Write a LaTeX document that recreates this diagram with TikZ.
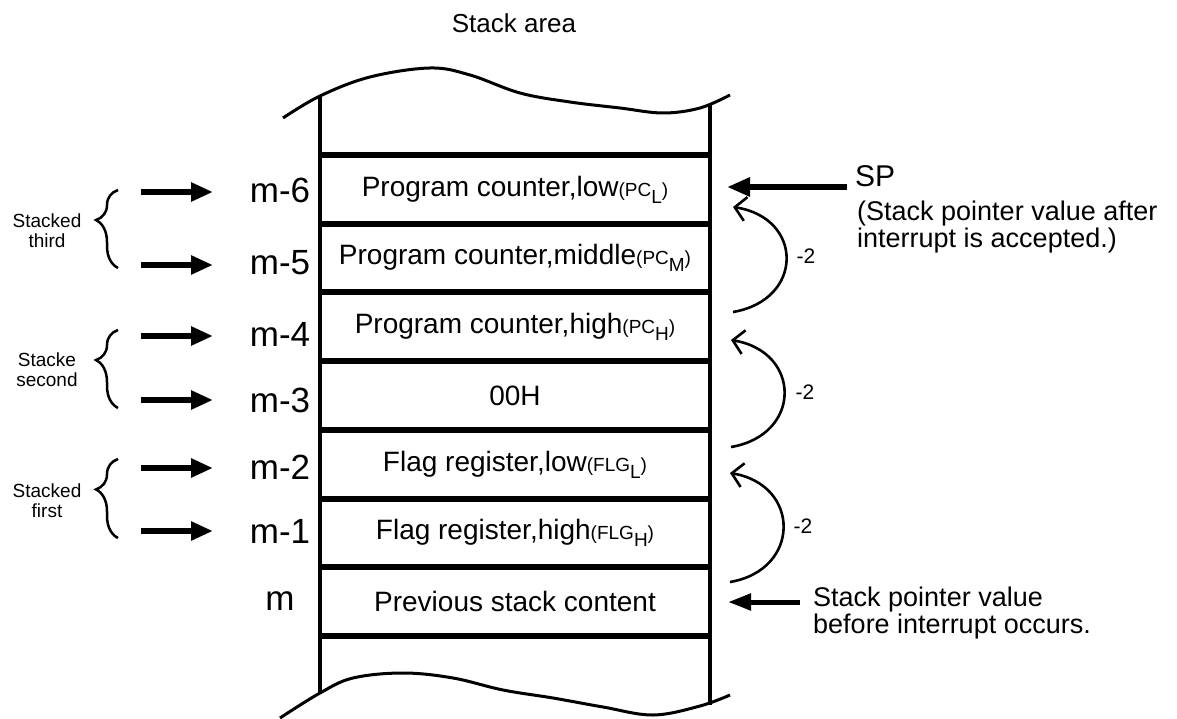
\documentclass[tikz,border=0pt]{standalone}
\usepackage{fontspec}
\setmainfont{Liberation Sans}
\usetikzlibrary{arrows.meta,decorations.pathreplacing}
\newcommand{\fsz}[1]{\fontsize{#1}{#1}\selectfont}
\newcommand{\subtxt}[2]{{\fsz{19}(#1\raisebox{-7pt}{#2})}}
\begin{document}
\begin{tikzpicture}[x=1pt,y=-1pt,
  cell/.style={minimum width=386pt, minimum height=64pt, inner sep=0pt, font=\fsz{28}},
  lbl/.style={inner sep=0pt, font=\fsz{35}},
  side/.style={inner sep=0pt, align=center, font=\fsz{19}, text depth=0pt},
  wall/.style={line width=4.5pt},
  shelf/.style={line width=5.5pt},
  wave/.style={line width=3pt},
  bigarrow/.style={line width=6pt, -{Triangle[length=22pt,width=18pt]}},
  curv/.style={line width=2.6pt, -{Straight Barb[length=11pt,width=24pt,line width=2.6pt]}},
  bracestyle/.style={line width=2.5pt, decorate, decoration={brace, amplitude=22pt, aspect=0.615}},
  note/.style={inner sep=0pt, align=left, font=\fsz{27}},
  dec/.style={inner sep=0pt, font=\fsz{21}}]
\useasboundingbox (0,0) rectangle (1177,719);

% title
\node[inner sep=0pt, font=\fsz{26}] (title) at (514,23) {Stack area};

% walls
\draw[wall] (320,95) -- (320,693);
\draw[wall] (710,105) -- (710,705);

% waves
\draw[wave] plot[smooth, tension=0.6] coordinates {(283,118) (320,96) (370,77) (430,68) (470,75) (520,93) (570,102) (620,108) (663,113) (700,108) (730,95)};
\draw[wave] plot[smooth, tension=0.6] coordinates {(280,718) (320,693) (353,678) (403,673) (453,678) (503,690) (553,698) (603,707) (653,715) (700,706) (730,695)};

% shelves
\foreach \yy in {155,224,292,361,430,499,567,636}
  \draw[shelf] (320,\yy) -- (710,\yy);

% cells
\node[cell] (c6) at (515,189.5) {Program counter,low\subtxt{PC}{L}};
\node[cell] (c5) at (515,258) {Program counter,middle\subtxt{PC}{M}};
\node[cell] (c4) at (515,326.5) {Program counter,high\subtxt{PC}{H}};
\node[cell] (c3) at (515,395.5) {00H};
\node[cell] (c2) at (515,464.5) {Flag register,low\subtxt{FLG}{L}};
\node[cell] (c1) at (515,533) {Flag register,high\subtxt{FLG}{H}};
\node[cell] (c0) at (515,601.5) {Previous stack content};

% address labels
\node[lbl] (l6) at (280,190) {m-6};
\node[lbl] (l5) at (280,263) {m-5};
\node[lbl] (l4) at (280,334) {m-4};
\node[lbl] (l3) at (280,400) {m-3};
\node[lbl] (l2) at (280,467) {m-2};
\node[lbl] (l1) at (280,531) {m-1};
\node[lbl] (l0) at (280,601) {m};

% left arrows
\foreach \n/\yy in {6/192,5/265,4/336,3/400,2/468,1/531} {
  \coordinate (s\n) at (141,\yy);
  \coordinate (e\n) at (213,\yy);
  \draw[bigarrow] (s\n) -- (e\n);
}

% braces
\draw[bracestyle] (118,268) -- (118,190);
\draw[bracestyle] (118,408) -- (118,330);
\draw[bracestyle] (118,538) -- (118,459);
\node[side] (g3) at (47,231) {Stacked\\[1pt]third};
\node[side] (g2) at (47,370) {Stacke\\[1pt]second};
\node[side] (g1) at (47,501) {Stacked\\[1pt]first};

% SP
\node[inner sep=0pt, anchor=west, font=\fsz{30}] (sp) at (855,176) {SP};
\node[note, anchor=west] (spnote) at (857,227) {(Stack pointer value after\\interrupt is accepted.)};
\coordinate (spa) at (847,187);
\coordinate (spb) at (727,187);
\draw[line width=6pt, -{Triangle[length=23pt,width=18pt]}] (spa) -- (spb);

\node[note, anchor=west] (prev) at (813,613) {Stack pointer value\\before interrupt occurs.};
\coordinate (pa) at (800,602);
\coordinate (pb) at (728,602);
\draw[line width=5pt, -{Triangle[length=23pt,width=16pt]}] (pa) -- (pb);

% -2 curved arrows
\draw[curv] (733,312) .. controls (804,300) and (804,218) .. (733,207);
\draw[curv] (731,447) .. controls (802,435) and (802,352) .. (731,340);
\draw[curv] (730,582) .. controls (801,570) and (801,485) .. (730,473);
\node[dec] (d1) at (806,256) {-2};
\node[dec] (d2) at (805,392) {-2};
\node[dec] (d3) at (803,526) {-2};
\end{tikzpicture}
\end{document}
